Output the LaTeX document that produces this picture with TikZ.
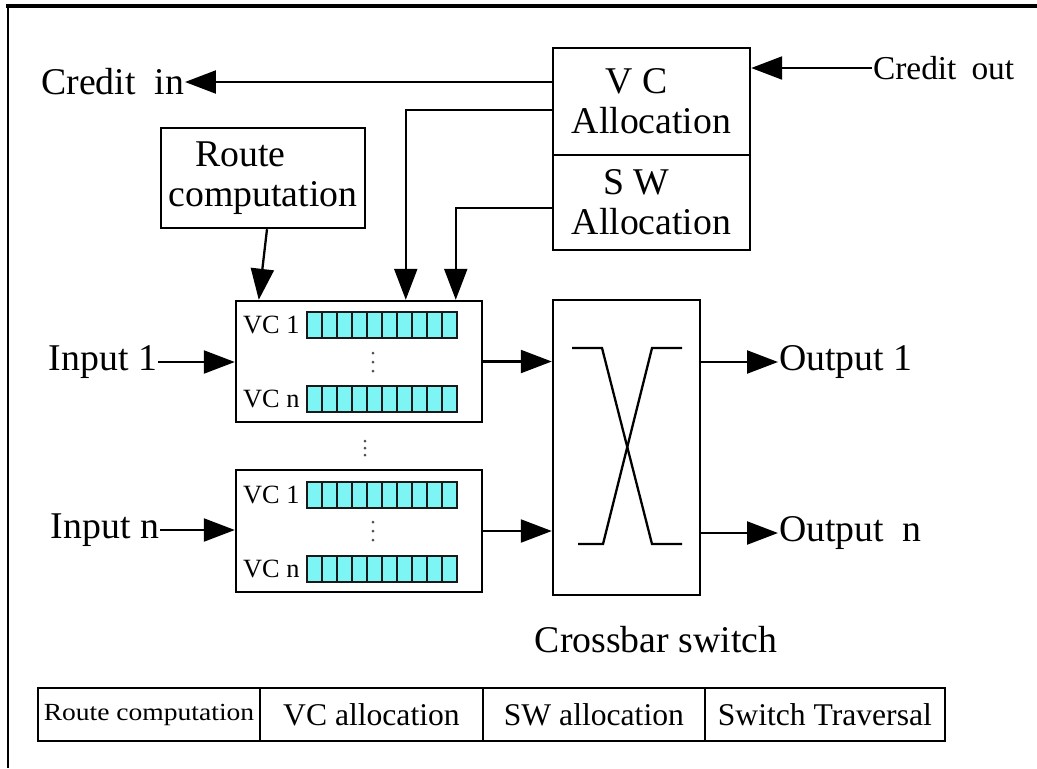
\documentclass[tikz,border=0pt]{standalone}
\usepackage{fontspec}
\setmainfont{Liberation Serif}
\usetikzlibrary{arrows.meta}
\definecolor{qfill}{RGB}{125,245,245}
\newcommand\lblfont{\fontsize{21.5}{22.7}\selectfont}
\newcommand\coutfont{\fontsize{19}{21}\selectfont}
\newcommand\tblfont{\fontsize{18}{20}\selectfont}
\newcommand\tblsmallfont{\fontsize{14}{16}\selectfont}
\newcommand\vcfont{\fontsize{15}{17}\selectfont}
\begin{document}
\begin{tikzpicture}[x=0.02cm, y=-0.02cm, line width=1.2pt,
  box/.style={draw, line width=1.4pt, inner sep=0pt, align=center, font=\lblfont},
  lbl/.style={inner sep=0pt, font=\lblfont},
  vcl/.style={inner sep=0pt, font=\vcfont},
  arr/.style={-{Triangle[length=0.62cm,width=0.46cm]}, line width=1.3pt},
  cell/.style={draw, line width=1.4pt, minimum height=1.06cm, inner sep=0pt, outer sep=0pt, font=\tblfont},
  qcell/.style={draw=black!90, fill=qfill, line width=1.3pt},
  wire/.style={line width=1.3pt}]

\useasboundingbox (0,0) rectangle (1037,768);

% outer frame (top and left edges)
\draw[line width=1.8pt] (6,6) -- (1037,6);
\draw[line width=1.4pt] (8,6) -- (8,768);

% allocators
\node[box, minimum width=3.94cm, minimum height=2.14cm] (vcbox) at (651.5,101.5) {\hspace*{-0.8em}V C\\Allocation};
\node[box, minimum width=3.94cm, minimum height=1.9cm] (swbox) at (651.5,202.5) {\hspace*{-0.8em}S W\\Allocation};

% route computation
\node[box, minimum width=4.08cm, minimum height=2cm] (route) at (263,178) {\hspace*{-1.2em}Route\\computation};

% input buffers
\node[box, minimum width=4.92cm, minimum height=2.42cm] (buf1) at (359,361.5) {};
\node[box, minimum width=4.92cm, minimum height=2.44cm] (buf2) at (359,531) {};

% crossbar
\node[box, minimum width=2.94cm, minimum height=5.9cm] (xbar) at (626.5,447.5) {};
\draw[wire] (572,348) -- (602,348) -- (652,544) -- (682,544);
\draw[wire] (578,544) -- (603,544) -- (652,348) -- (682,348);

% virtual channel queues
\foreach \y in {312,386,482,556} {
  \foreach \i in {0,...,9} {
    \draw[qcell] ({307+15*\i},\y) rectangle ++(15,26);
  }
}
\node[vcl, anchor=west] (v11) at (242,325) {VC 1};
\node[vcl, anchor=west] (v1n) at (242,399) {VC n};
\node[vcl, anchor=west] (vn1) at (242,495) {VC 1};
\node[vcl, anchor=west] (vnn) at (242,569) {VC n};

% ellipses
\foreach \yy in {353,362,371} \fill[black!70] (373,\yy) circle (0.03cm);
\foreach \yy in {522,531,540} \fill[black!70] (373,\yy) circle (0.03cm);
\foreach \yy in {441,448,455} \fill[black!70] (365,\yy) circle (0.03cm);

% labels
\node[lbl, anchor=east] (cin) at (185,82) {Credit\ \ in};
\node[lbl, anchor=west, font=\coutfont] (cout) at (872,68) {Credit\hspace{0.45em}out};
\node[lbl, anchor=east] (in1) at (158,362) {Input 1};
\node[lbl, anchor=east] (inn) at (160,530) {Input n};
\node[lbl, anchor=west] (out1) at (778,362) {Output 1};
\node[lbl, anchor=west] (outn) at (778,533) {Output\ \ n};
\node[lbl] (xlabel) at (656,640) {Crossbar switch};

% connectors
\draw[arr] (vcbox.west |- cin.east) -- (cin.east);
\draw[arr] (cout.west) -- (vcbox.east |- cout.west);
\draw[arr] ([yshift=-0.17cm]vcbox.west) -| ([xshift=3.42cm]buf1.north west);
\draw[arr] ([yshift=-0.11cm]swbox.west) -| ([xshift=4.42cm]buf1.north west);
\draw[arr] ([xshift=0.08cm]route.south) -- ([xshift=0.48cm]buf1.north west);
\draw[arr] (in1.east) -- (buf1.west |- in1.east);
\draw[arr] (inn.east) -- (buf2.west |- inn.east);
\draw[arr] (buf1.east) -- (xbar.west |- buf1.east);
\draw[arr] (buf2.east) -- (xbar.west |- buf2.east);
\draw[arr] (xbar.east |- out1.west) -- (out1.west);
\draw[arr] (xbar.east |- outn.west) -- (outn.west);

% pipeline stages
\node[cell, minimum width=4.44cm, anchor=north west] (t1) at (38,688) {\tblsmallfont\scalebox{1.12}[1]{Route computation}};
\node[cell, minimum width=4.46cm, anchor=west] (t2) at (t1.east) {VC allocation};
\node[cell, minimum width=4.44cm, anchor=west] (t3) at (t2.east) {SW allocation};
\node[cell, minimum width=4.8cm, anchor=west] (t4) at (t3.east) {Switch Traversal};
\end{tikzpicture}
\end{document}
